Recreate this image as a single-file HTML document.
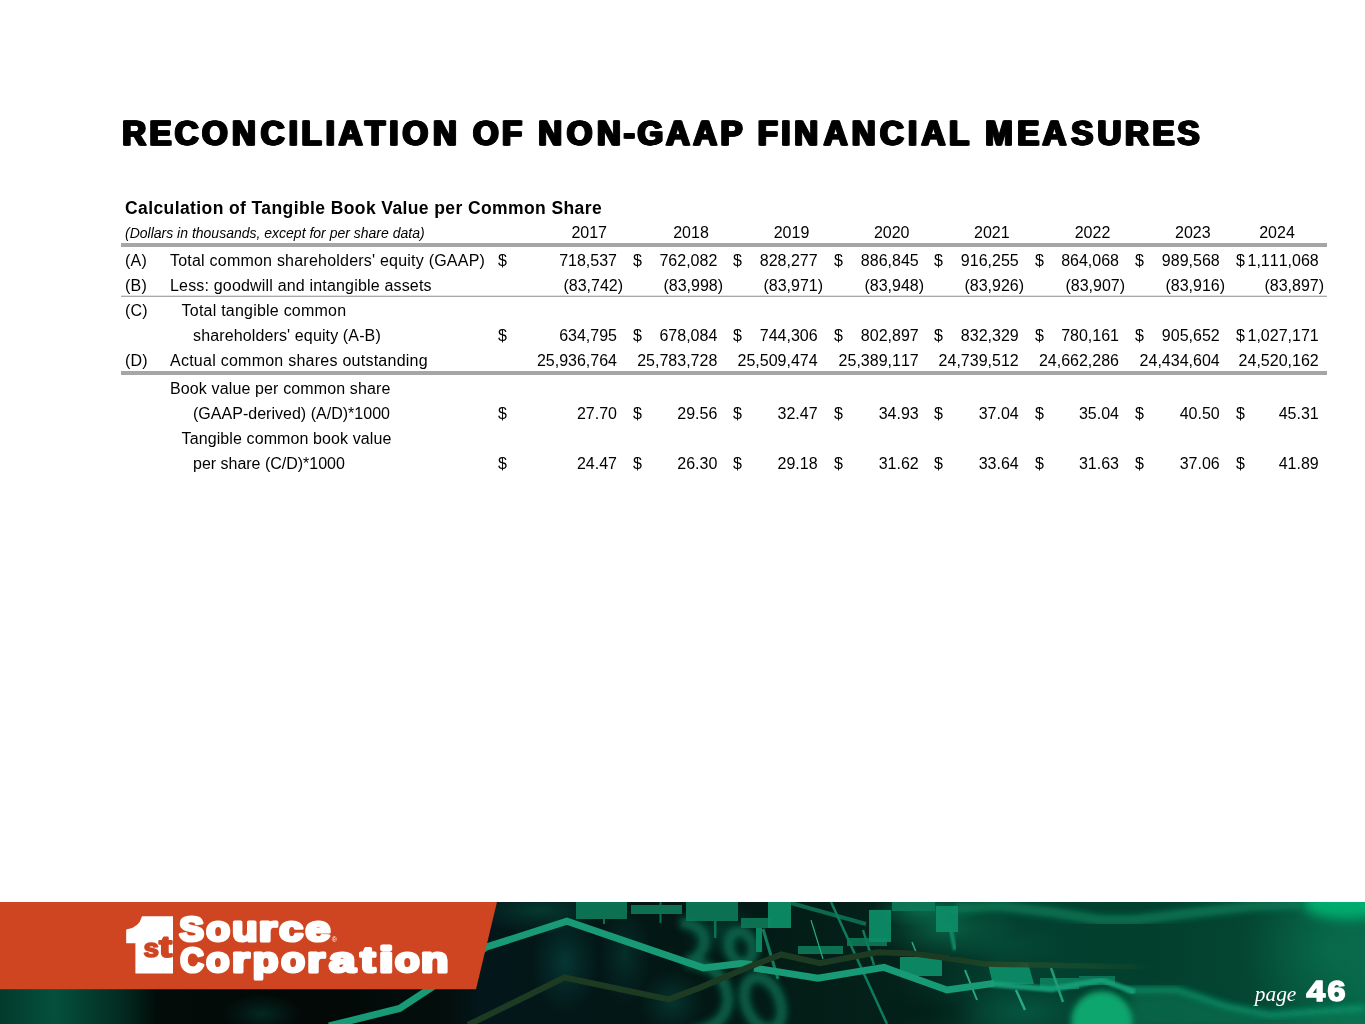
<!DOCTYPE html>
<html lang="en"><head><meta charset="utf-8"><title>Reconciliation of Non-GAAP Financial Measures</title>
<style>
html,body{margin:0;padding:0;background:#fff;}
body{width:1365px;height:1024px;position:relative;overflow:hidden;font-family:"Liberation Sans",Arial,Helvetica,sans-serif;color:#000;}
.t{position:absolute;white-space:nowrap;font-size:16px;line-height:20px;height:20px;}
.t.r{text-align:right;}
.t.c{text-align:center;}
.t.n{font-kerning:none;}
h1{margin:0;padding:0;font-size:0;}
.sub{position:absolute;left:125px;top:197px;font-size:17.5px;line-height:22px;font-weight:bold;white-space:nowrap;letter-spacing:0.4px;}
.note{position:absolute;left:125px;top:224px;font-size:14px;line-height:18px;font-style:italic;white-space:nowrap;}
.rule{position:absolute;left:121px;width:1206px;background:#a6a6a6;}
.footer{position:absolute;left:0;top:902px;width:1365px;height:122px;overflow:hidden;}
</style></head><body>
<h1><svg class="ttl" width="1365" height="50" viewBox="0 0 1365 50" style="position:absolute;left:0;top:110px;filter:drop-shadow(1.0px 0 0 #000) drop-shadow(-1.0px 0 0 #000)"><text transform="scale(0.927,1)" y="34.900000000000006" x="131.9 161.2 188.52 217.83 250.31 281.35 311.61 325.27 351.31 365.43 393.7 420.03 434.18 467.14 497.03 510.28 541.5 567.53 580.74 611.47 644.11 672.89 687.71 718.56 747.74 777.24 805.77 817.5 842.68 856.73 888.63 918.92 949.25 979.47 993.97 1023.87 1050.11 1062.73 1097.29 1124.55 1155.62 1183.87 1213.5 1243.35 1270.35" font-family="Liberation Sans, Arial, sans-serif" font-weight="bold" font-size="35.6" fill="#000" stroke="#000" stroke-width="1.0" stroke-linejoin="miter">RECONCILIATION OF NON-GAAP FINANCIAL MEASURES</text></svg></h1>
<div class="sub">Calculation of Tangible Book Value per Common Share</div>
<div class="note">(Dollars in thousands, except for per share data)</div>
<div class="rule" style="top:243px;height:4px"></div>
<div class="rule" style="top:295px;height:1px;background:#e2e2e2"></div>
<div class="rule" style="top:296px;height:1px;background:#a9a9a9"></div>
<div class="rule" style="top:371px;height:4px"></div>
<div class="t c n" style="left:439.20000000000005px;width:300px;top:223px;">2017</div>
<div class="t c n" style="left:541px;width:300px;top:223px;">2018</div>
<div class="t c n" style="left:641.5px;width:300px;top:223px;">2019</div>
<div class="t c n" style="left:741.7px;width:300px;top:223px;">2020</div>
<div class="t c n" style="left:841.8px;width:300px;top:223px;">2021</div>
<div class="t c n" style="left:942.5px;width:300px;top:223px;">2022</div>
<div class="t c n" style="left:1042.8px;width:300px;top:223px;">2023</div>
<div class="t c n" style="left:1127px;width:300px;top:223px;">2024</div>
<div class="t r n" style="left:317px;width:300px;top:251px;">718,537</div>
<div class="t n" style="left:498px;top:251px;">$</div>
<div class="t r n" style="left:417.29999999999995px;width:300px;top:251px;">762,082</div>
<div class="t n" style="left:633px;top:251px;">$</div>
<div class="t r n" style="left:517.6px;width:300px;top:251px;">828,277</div>
<div class="t n" style="left:733px;top:251px;">$</div>
<div class="t r n" style="left:618.7px;width:300px;top:251px;">886,845</div>
<div class="t n" style="left:834px;top:251px;">$</div>
<div class="t r n" style="left:718.7px;width:300px;top:251px;">916,255</div>
<div class="t n" style="left:934px;top:251px;">$</div>
<div class="t r n" style="left:819px;width:300px;top:251px;">864,068</div>
<div class="t n" style="left:1035px;top:251px;">$</div>
<div class="t r n" style="left:919.7px;width:300px;top:251px;">989,568</div>
<div class="t n" style="left:1135px;top:251px;">$</div>
<div class="t r n" style="left:1018.7px;width:300px;top:251px;">1,111,068</div>
<div class="t n" style="left:1236px;top:251px;">$</div>
<div class="t r n" style="left:323px;width:300px;top:276px;">(83,742)</div>
<div class="t r n" style="left:423px;width:300px;top:276px;">(83,998)</div>
<div class="t r n" style="left:523px;width:300px;top:276px;">(83,971)</div>
<div class="t r n" style="left:624px;width:300px;top:276px;">(83,948)</div>
<div class="t r n" style="left:724px;width:300px;top:276px;">(83,926)</div>
<div class="t r n" style="left:825px;width:300px;top:276px;">(83,907)</div>
<div class="t r n" style="left:925px;width:300px;top:276px;">(83,916)</div>
<div class="t r n" style="left:1024px;width:300px;top:276px;">(83,897)</div>
<div class="t r n" style="left:317px;width:300px;top:326px;">634,795</div>
<div class="t n" style="left:498px;top:326px;">$</div>
<div class="t r n" style="left:417.29999999999995px;width:300px;top:326px;">678,084</div>
<div class="t n" style="left:633px;top:326px;">$</div>
<div class="t r n" style="left:517.6px;width:300px;top:326px;">744,306</div>
<div class="t n" style="left:733px;top:326px;">$</div>
<div class="t r n" style="left:618.7px;width:300px;top:326px;">802,897</div>
<div class="t n" style="left:834px;top:326px;">$</div>
<div class="t r n" style="left:718.7px;width:300px;top:326px;">832,329</div>
<div class="t n" style="left:934px;top:326px;">$</div>
<div class="t r n" style="left:819px;width:300px;top:326px;">780,161</div>
<div class="t n" style="left:1035px;top:326px;">$</div>
<div class="t r n" style="left:919.7px;width:300px;top:326px;">905,652</div>
<div class="t n" style="left:1135px;top:326px;">$</div>
<div class="t r n" style="left:1018.7px;width:300px;top:326px;">1,027,171</div>
<div class="t n" style="left:1236px;top:326px;">$</div>
<div class="t r n" style="left:317px;width:300px;top:351px;">25,936,764</div>
<div class="t r n" style="left:417.29999999999995px;width:300px;top:351px;">25,783,728</div>
<div class="t r n" style="left:517.6px;width:300px;top:351px;">25,509,474</div>
<div class="t r n" style="left:618.7px;width:300px;top:351px;">25,389,117</div>
<div class="t r n" style="left:718.7px;width:300px;top:351px;">24,739,512</div>
<div class="t r n" style="left:819px;width:300px;top:351px;">24,662,286</div>
<div class="t r n" style="left:919.7px;width:300px;top:351px;">24,434,604</div>
<div class="t r n" style="left:1018.7px;width:300px;top:351px;">24,520,162</div>
<div class="t r n" style="left:317px;width:300px;top:404px;">27.70</div>
<div class="t n" style="left:498px;top:404px;">$</div>
<div class="t r n" style="left:417.29999999999995px;width:300px;top:404px;">29.56</div>
<div class="t n" style="left:633px;top:404px;">$</div>
<div class="t r n" style="left:517.6px;width:300px;top:404px;">32.47</div>
<div class="t n" style="left:733px;top:404px;">$</div>
<div class="t r n" style="left:618.7px;width:300px;top:404px;">34.93</div>
<div class="t n" style="left:834px;top:404px;">$</div>
<div class="t r n" style="left:718.7px;width:300px;top:404px;">37.04</div>
<div class="t n" style="left:934px;top:404px;">$</div>
<div class="t r n" style="left:819px;width:300px;top:404px;">35.04</div>
<div class="t n" style="left:1035px;top:404px;">$</div>
<div class="t r n" style="left:919.7px;width:300px;top:404px;">40.50</div>
<div class="t n" style="left:1135px;top:404px;">$</div>
<div class="t r n" style="left:1018.7px;width:300px;top:404px;">45.31</div>
<div class="t n" style="left:1236px;top:404px;">$</div>
<div class="t r n" style="left:317px;width:300px;top:454px;">24.47</div>
<div class="t n" style="left:498px;top:454px;">$</div>
<div class="t r n" style="left:417.29999999999995px;width:300px;top:454px;">26.30</div>
<div class="t n" style="left:633px;top:454px;">$</div>
<div class="t r n" style="left:517.6px;width:300px;top:454px;">29.18</div>
<div class="t n" style="left:733px;top:454px;">$</div>
<div class="t r n" style="left:618.7px;width:300px;top:454px;">31.62</div>
<div class="t n" style="left:834px;top:454px;">$</div>
<div class="t r n" style="left:718.7px;width:300px;top:454px;">33.64</div>
<div class="t n" style="left:934px;top:454px;">$</div>
<div class="t r n" style="left:819px;width:300px;top:454px;">31.63</div>
<div class="t n" style="left:1035px;top:454px;">$</div>
<div class="t r n" style="left:919.7px;width:300px;top:454px;">37.06</div>
<div class="t n" style="left:1135px;top:454px;">$</div>
<div class="t r n" style="left:1018.7px;width:300px;top:454px;">41.89</div>
<div class="t n" style="left:1236px;top:454px;">$</div>
<div class="t " style="left:125px;top:251px;letter-spacing:0.2px;">(A)</div>
<div class="t " style="left:125px;top:276px;letter-spacing:0.2px;">(B)</div>
<div class="t " style="left:125px;top:301px;letter-spacing:0.2px;">(C)</div>
<div class="t " style="left:125px;top:351px;letter-spacing:0.2px;">(D)</div>
<div class="t " style="left:170px;top:251px;letter-spacing:0.22px;">Total common shareholders' equity (GAAP)</div>
<div class="t " style="left:170px;top:276px;letter-spacing:0.18px;">Less: goodwill and intangible assets</div>
<div class="t " style="left:181.6px;top:301px;letter-spacing:0.22px;">Total tangible common</div>
<div class="t " style="left:193px;top:326px;letter-spacing:0.13px;">shareholders' equity (A-B)</div>
<div class="t " style="left:170px;top:351px;letter-spacing:0.25px;">Actual common shares outstanding</div>
<div class="t " style="left:170px;top:379px;letter-spacing:0.13px;">Book value per common share</div>
<div class="t " style="left:193px;top:404px;letter-spacing:0.02px;">(GAAP-derived) (A/D)*1000</div>
<div class="t " style="left:181.6px;top:429px;letter-spacing:0.1px;">Tangible common book value</div>
<div class="t " style="left:193px;top:454px;letter-spacing:-0.01px;">per share (C/D)*1000</div>
<div class="footer">
<svg width="1365" height="122" viewBox="0 902 1365 122" style="display:block">
<defs>
<linearGradient id="bg" x1="0" y1="0" x2="1365" y2="0" gradientUnits="userSpaceOnUse"><stop offset="0.0000" stop-color="#033a2c"/><stop offset="0.0403" stop-color="#04503c"/><stop offset="0.0901" stop-color="#032a20"/><stop offset="0.1150" stop-color="#020c09"/><stop offset="0.2418" stop-color="#020907"/><stop offset="0.3297" stop-color="#030f0d"/><stop offset="0.3516" stop-color="#03161a"/><stop offset="0.5128" stop-color="#031814"/><stop offset="0.6593" stop-color="#03221a"/><stop offset="0.7326" stop-color="#03402f"/><stop offset="0.8425" stop-color="#033f2d"/><stop offset="0.9158" stop-color="#044632"/><stop offset="1.0000" stop-color="#076648"/></linearGradient>
<filter id="b3" x="-20%" y="-20%" width="140%" height="140%"><feGaussianBlur stdDeviation="3"/></filter>
<filter id="b4" x="-30%" y="-30%" width="160%" height="160%"><feGaussianBlur stdDeviation="3.5"/></filter>
<filter id="b2" x="-20%" y="-20%" width="140%" height="140%"><feGaussianBlur stdDeviation="2"/></filter>
<filter id="b6" x="-30%" y="-60%" width="160%" height="220%"><feGaussianBlur stdDeviation="6"/></filter>
<filter id="b1" x="-10%" y="-10%" width="120%" height="120%"><feGaussianBlur stdDeviation="1"/></filter>
<filter id="b05" x="-10%" y="-10%" width="120%" height="120%"><feGaussianBlur stdDeviation="0.6"/></filter>
<radialGradient id="g0"><stop offset="0" stop-color="#064a40" stop-opacity="0.45"/><stop offset="0.5" stop-color="#064a40" stop-opacity="0.20"/><stop offset="1" stop-color="#064a40" stop-opacity="0"/></radialGradient>
<radialGradient id="g1"><stop offset="0" stop-color="#06504a" stop-opacity="0.55"/><stop offset="0.5" stop-color="#06504a" stop-opacity="0.25"/><stop offset="1" stop-color="#06504a" stop-opacity="0"/></radialGradient>
<radialGradient id="g2"><stop offset="0" stop-color="#075040" stop-opacity="0.6"/><stop offset="0.5" stop-color="#075040" stop-opacity="0.27"/><stop offset="1" stop-color="#075040" stop-opacity="0"/></radialGradient>
<radialGradient id="g3"><stop offset="0" stop-color="#064a42" stop-opacity="0.45"/><stop offset="0.5" stop-color="#064a42" stop-opacity="0.20"/><stop offset="1" stop-color="#064a42" stop-opacity="0"/></radialGradient>
<radialGradient id="g4"><stop offset="0" stop-color="#065048" stop-opacity="0.5"/><stop offset="0.5" stop-color="#065048" stop-opacity="0.23"/><stop offset="1" stop-color="#065048" stop-opacity="0"/></radialGradient>
<radialGradient id="g5"><stop offset="0" stop-color="#06503e" stop-opacity="0.5"/><stop offset="0.5" stop-color="#06503e" stop-opacity="0.23"/><stop offset="1" stop-color="#06503e" stop-opacity="0"/></radialGradient>
<radialGradient id="g6"><stop offset="0" stop-color="#0b7a56" stop-opacity="0.8"/><stop offset="0.5" stop-color="#0b7a56" stop-opacity="0.36"/><stop offset="1" stop-color="#0b7a56" stop-opacity="0"/></radialGradient>
<radialGradient id="g7"><stop offset="0" stop-color="#0a6e4e" stop-opacity="0.75"/><stop offset="0.5" stop-color="#0a6e4e" stop-opacity="0.34"/><stop offset="1" stop-color="#0a6e4e" stop-opacity="0"/></radialGradient>
<radialGradient id="g8"><stop offset="0" stop-color="#04503a" stop-opacity="0.5"/><stop offset="0.5" stop-color="#04503a" stop-opacity="0.23"/><stop offset="1" stop-color="#04503a" stop-opacity="0"/></radialGradient>
<radialGradient id="g9"><stop offset="0" stop-color="#0a7a55" stop-opacity="0.45"/><stop offset="0.5" stop-color="#0a7a55" stop-opacity="0.20"/><stop offset="1" stop-color="#0a7a55" stop-opacity="0"/></radialGradient>
<radialGradient id="g10"><stop offset="0" stop-color="#011c15" stop-opacity="0.7"/><stop offset="0.5" stop-color="#011c15" stop-opacity="0.32"/><stop offset="1" stop-color="#011c15" stop-opacity="0"/></radialGradient>
<radialGradient id="g11"><stop offset="0" stop-color="#06624a" stop-opacity="0.6"/><stop offset="0.5" stop-color="#06624a" stop-opacity="0.27"/><stop offset="1" stop-color="#06624a" stop-opacity="0"/></radialGradient>
<linearGradient id="olf" x1="946" y1="0" x2="1160" y2="0" gradientUnits="userSpaceOnUse"><stop offset="0" stop-color="#1d3b22"/><stop offset="0.3" stop-color="#22482a"/><stop offset="1" stop-color="#1f5a34" stop-opacity="0"/></linearGradient>
</defs>
<rect x="0" y="902" width="1365" height="122" fill="url(#bg)"/>
<ellipse cx="262" cy="1014" rx="40" ry="20" fill="url(#g0)"/>
<ellipse cx="565" cy="962" rx="34" ry="52" fill="url(#g1)"/>
<ellipse cx="540" cy="910" rx="70" ry="24" fill="url(#g2)"/>
<ellipse cx="625" cy="955" rx="26" ry="50" fill="url(#g3)"/>
<ellipse cx="672" cy="1002" rx="32" ry="32" fill="url(#g4)"/>
<ellipse cx="720" cy="930" rx="40" ry="30" fill="url(#g5)"/>
<ellipse cx="925" cy="910" rx="55" ry="18" fill="url(#g6)"/>
<ellipse cx="945" cy="928" rx="75" ry="34" fill="url(#g7)"/>
<ellipse cx="1010" cy="945" rx="60" ry="20" fill="url(#g8)"/>
<ellipse cx="1330" cy="950" rx="90" ry="70" fill="url(#g9)"/>
<ellipse cx="925" cy="1012" rx="60" ry="26" fill="url(#g10)"/>
<ellipse cx="1025" cy="1012" rx="70" ry="28" fill="url(#g11)"/>
<path d="M955 908 L1000 906 L1050 912 L1100 920 L1135 920 L1200 912 L1253 906 L1300 904" fill="none" stroke="#0a7a56" stroke-width="10" filter="url(#b3)" opacity=".85"/>
<path d="M1130 992 L1177 991 L1228 1008 L1270 1016 L1365 1009 L1365 1030 L1130 1030 Z" fill="#08805a" filter="url(#b6)" opacity=".55"/>
<path d="M1125 990 L1177 990 L1228 1007 L1270 1015 L1365 1008" fill="none" stroke="#0e9a6e" stroke-width="5.5" filter="url(#b3)" opacity=".9"/>
<g filter="url(#b4)" fill="none" stroke="#076a50" stroke-width="11" opacity=".85">
<ellipse cx="741" cy="947" rx="12" ry="16" transform="rotate(-15 741 947)"/>
<ellipse cx="763" cy="1003" rx="17" ry="27" transform="rotate(-22 763 1003)"/>
<path d="M680 922 q28 4 24 24 q-4 12 -18 16 q38 2 42 36 q0 28 -36 34"/>
</g>
<g fill="#0c7a58" opacity=".9" filter="url(#b05)">
<rect x="576" y="902" width="51" height="17"/><rect x="631" y="905" width="51" height="9"/>
<rect x="603" y="918" width="2" height="6"/><rect x="659.5" y="902" width="2" height="21"/>
<rect x="686" y="902" width="52" height="19"/><rect x="741" y="918" width="30" height="10"/><rect x="714" y="921" width="2.5" height="17"/>
<rect x="798" y="946" width="45" height="8"/><rect x="847" y="938" width="40" height="8"/>
<rect x="892" y="902" width="43" height="9"/>
</g>
<g fill="#0f8e68" opacity=".92" filter="url(#b05)">
<rect x="768" y="902" width="23" height="26"/><rect x="869" y="910" width="22" height="32"/>
<rect x="936" y="906" width="22" height="26"/>
<rect x="900" y="957" width="42" height="19"/><polygon points="988,964 1028,963 1034,984 993,985"/>
<rect x="1040" y="978" width="39" height="11" opacity=".8"/><rect x="1079" y="976" width="36" height="9" opacity=".7"/>
</g>
<g stroke="#0e7c5c" fill="none">
<path d="M831 902 L887 1024" stroke-width="2.5"/>
<path d="M811 920 L823 959" stroke-width="1.2" stroke="#2aa886"/>
<path d="M759 928 L759 952" stroke-width="6" stroke="#0b8560"/>
<path d="M763 929 L778 979" stroke-width="3"/>
<path d="M791 903 L866 924" stroke-width="4" opacity=".8"/>
<path d="M863 930 L874 965" stroke-width="2.5"/>
<path d="M965 970 L977 1000" stroke-width="2" stroke="#2aa886"/>
<path d="M1016 990 L1025 1010" stroke-width="2.5" stroke="#2aa886"/>
<path d="M1051 968 L1063 1002" stroke-width="2.5" stroke="#1f9c78"/>
<path d="M950 925 L955 950" stroke-width="4" stroke="#0f8a66" filter="url(#b1)"/>
<path d="M912 942 L916 952" stroke-width="1.5" stroke="#2aa886"/>
</g>
<circle cx="1102" cy="1022" r="31" fill="#08a66e" filter="url(#b3)"/>
<ellipse cx="1346" cy="903" rx="44" ry="16" fill="#02ac6e" filter="url(#b6)"/>
<path d="M329 1026 L399.6 1008.5 L431 988 L486 947.2 L566.9 921.1 L703.4 967.9 L741 963.4 L752 964.5 M754 968 L818 978.3 L884 967.4 L910 976.7 L947 990 L994 983.4" fill="none" stroke="#199a77" stroke-width="7" stroke-linejoin="miter"/>
<path d="M990 984 L1051.6 989.3 L1102 980 L1135 992" fill="none" stroke="#17a079" stroke-width="6" filter="url(#b1)" opacity=".9"/>
<path d="M468 1025 L564.4 977.5 L668.8 999.4 L700 987.6 L752.3 965.6 L781.3 954.5 L820 963.2 L877 952.2 L912 953.4 L950 958.5" fill="none" stroke="#1d3b22" stroke-width="6" stroke-linejoin="miter"/>
<path d="M946 958 L984 964 L1160 967.5" fill="none" stroke="url(#olf)" stroke-width="5.5" filter="url(#b05)"/>
<polygon points="0,902 497,902 476,989.3 0,989.3" fill="#cf4521"/>
<path d="M142 916.2 H173 V973.6 H135.4 V943.2 H126.2 V929.4 Q139 928 142 916.2 Z" fill="#fff"/>
<text x="135.5" y="968" font-family="Liberation Sans, Arial, sans-serif" font-weight="bold" font-size="64" fill="#fff">1</text>
<g font-family="Liberation Sans, Arial, sans-serif" font-weight="bold" fill="#cf4521" stroke="#cf4521" stroke-linejoin="round">
<text y="956.6"><tspan x="143.6" font-size="25.5" stroke-width="1.6" textLength="15.5" lengthAdjust="spacingAndGlyphs">s</tspan><tspan x="159" font-size="30" stroke-width="1.8" textLength="13.2" lengthAdjust="spacingAndGlyphs">t</tspan></text>
</g>
<g font-family="Liberation Sans, Arial, sans-serif" font-weight="bold" font-size="35" fill="#fff" stroke="#fff" stroke-width="3.2" stroke-linejoin="round">
<text y="941.0"><tspan x="179.33" textLength="24.73" lengthAdjust="spacingAndGlyphs">S</tspan><tspan x="206.36" textLength="23.78" lengthAdjust="spacingAndGlyphs">o</tspan><tspan x="232.23" textLength="25.21" lengthAdjust="spacingAndGlyphs">u</tspan><tspan x="258.75" textLength="18.21" lengthAdjust="spacingAndGlyphs">r</tspan><tspan x="279.29" textLength="23.91" lengthAdjust="spacingAndGlyphs">c</tspan><tspan x="305.40" textLength="24.79" lengthAdjust="spacingAndGlyphs">e</tspan></text>
<text y="972.1"><tspan x="180.15" textLength="23.55" lengthAdjust="spacingAndGlyphs">C</tspan><tspan x="206.35" textLength="23.19" lengthAdjust="spacingAndGlyphs">o</tspan><tspan x="231.98" textLength="17.63" lengthAdjust="spacingAndGlyphs">r</tspan><tspan x="252.65" textLength="25.55" lengthAdjust="spacingAndGlyphs">p</tspan><tspan x="281.16" textLength="23.68" lengthAdjust="spacingAndGlyphs">o</tspan><tspan x="307.28" textLength="17.63" lengthAdjust="spacingAndGlyphs">r</tspan><tspan x="329.27" textLength="26.09" lengthAdjust="spacingAndGlyphs">a</tspan><tspan x="360.59" textLength="14.82" lengthAdjust="spacingAndGlyphs">t</tspan><tspan x="378.95" textLength="14.46" lengthAdjust="spacingAndGlyphs">i</tspan><tspan x="394.97" textLength="24.56" lengthAdjust="spacingAndGlyphs">o</tspan><tspan x="420.90" textLength="27.33" lengthAdjust="spacingAndGlyphs">n</tspan></text>
</g>
<text x="331.8" y="942" font-family="Liberation Sans, Arial, sans-serif" font-size="7" fill="#fff">®</text>
<text x="1254.8" y="1001" font-family="Liberation Serif, serif" font-style="italic" font-size="22" fill="#fff" textLength="41.5" lengthAdjust="spacingAndGlyphs">page</text>
<text y="1000.6" font-family="Liberation Sans, Arial, sans-serif" font-weight="bold" font-size="30" fill="#fff" stroke="#fff" stroke-width="1.7" stroke-linejoin="round"><tspan x="1306.4" textLength="18.6" lengthAdjust="spacingAndGlyphs">4</tspan><tspan x="1327.6" textLength="18" lengthAdjust="spacingAndGlyphs">6</tspan></text>
</svg>
</div>
</body></html>
